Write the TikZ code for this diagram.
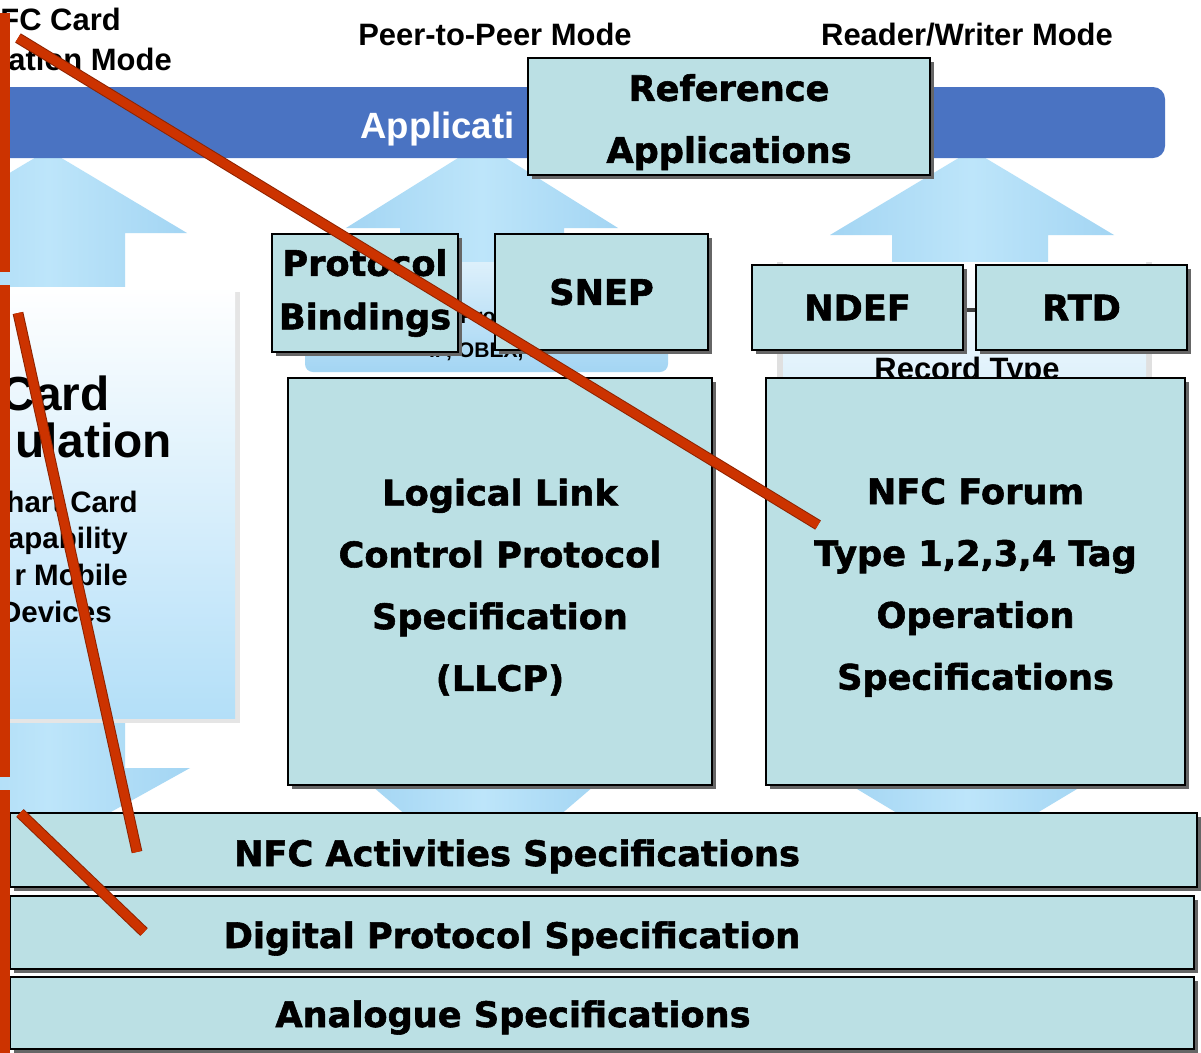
\documentclass[tikz,border=0pt]{standalone}
\usepackage{fontspec}
\setmainfont{Liberation Sans}
\newfontfamily\heavyfont{DejaVu Sans}[BoldFeatures={FakeBold=1.6}]
\usetikzlibrary{shadows, positioning}
\definecolor{tealFill}{HTML}{BBE0E4}
\definecolor{barBlue}{HTML}{4A73C2}
\definecolor{arrowBlue}{HTML}{A3D5F3}
\definecolor{arrowMid}{HTML}{BDE5FA}
\definecolor{panelBlue}{HTML}{B3DFF8}
\definecolor{paleBlue}{HTML}{DDF0FB}
\definecolor{redLine}{HTML}{CC3300}
\definecolor{redDark}{HTML}{8E2300}
\newcommand{\topstrut}{\rule{0pt}{27pt}}

\tikzset{
  specbox/.style={draw=black, line width=0.6mm, fill=tealFill,
    drop shadow={shadow xshift=0.9mm, shadow yshift=-0.9mm, fill=black!60, opacity=1},
    inner sep=0pt, align=center, font=\heavyfont\bfseries\fontsize{25}{44}\selectfont},
  spectext/.style={inner sep=0pt, anchor=base, font=\heavyfont\bfseries\fontsize{25}{30}\selectfont},
  modetext/.style={inner sep=0pt, anchor=base, font=\bfseries\fontsize{22}{26}\selectfont},
  cardtext/.style={inner sep=0pt, anchor=base east, font=\bfseries\fontsize{21}{26}\selectfont},
  uparrow/.style={left color=arrowBlue, right color=arrowBlue, middle color=arrowMid},
  redline/.style={draw=redLine, line width=2.2mm, preaction={draw=redDark, line width=2.7mm}},
}

\begin{document}
\begin{tikzpicture}[x=0.25mm, y=-0.25mm]
    \fill[white] (0,0) rectangle (1201,1052);
    \useasboundingbox (0,0) rectangle (1201,1052);

    % arrows of the original figure
    \shade[uparrow] (48,150) -- (187,233) -- (125,233) -- (125,290) -- (-29,290) -- (-29,233) -- (-91,233) -- cycle;
    \shade[uparrow] (482,143) -- (618,228) -- (564,228) -- (564,270) -- (400,270) -- (400,228) -- (346,228) -- cycle;
    \shade[uparrow] (972,150) -- (1114,235) -- (1048,235) -- (1048,270) -- (892,270) -- (892,235) -- (830,235) -- cycle;
    \shade[uparrow] (-94,768) -- (-29,768) -- (-29,710) -- (125,710) -- (125,768) -- (190,768) -- (48,847) -- cycle;
    \shade[uparrow] (365,780) -- (601,780) -- (483,881) -- cycle;
    \shade[uparrow] (842,780) -- (1092,780) -- (967,855) -- cycle;

    \fill[barBlue, rounded corners=3mm] (-30,87) rectangle (1165,158);
    \node[anchor=base west, inner sep=0pt, text=white, font=\bfseries\fontsize{26}{30}\selectfont] (apptext) at (360,138) {Applicati};

    % panels of the original figure
    \fill[black!10] (-10,292) rectangle (240,723);
    \shade[top color=white, bottom color=panelBlue] (-10,287) rectangle (235,718);
    \shade[top color=paleBlue, bottom color=arrowBlue, rounded corners=2mm] (305,262) rectangle (668,372);
    \fill[black!12] (777,262) rectangle (1152,384);
    \shade[top color=white, bottom color=paleBlue] (783,262) rectangle (1146,382);
    \draw[black!75, line width=1.2mm] (955,310) -- (985,310);

    \node[modetext, anchor=base east] (cardmode1) at (121,30) {FC Card};
    \node[modetext, anchor=base east] (cardmode2) at (172,70) {ation Mode};
    \node[modetext] (p2pmode) at (495,45) {Peer-to-Peer Mode};
    \node[modetext] (rwmode) at (967,45) {Reader/Writer Mode};

    \node[cardtext, font=\bfseries\fontsize{34}{40}\selectfont] (card1) at (110,410) {Card};
    \node[cardtext, font=\bfseries\fontsize{34}{40}\selectfont] (card2) at (172,457) {ulation};
    \node[cardtext] (card3) at (138,512) {hart Card};
    \node[cardtext] (card4) at (128,548) {apability};
    \node[cardtext] (card5) at (128,585) {r Mobile};
    \node[cardtext] (card6) at (112,622) {Devices};

    \node[anchor=base west, inner sep=0pt, font=\bfseries\fontsize{15}{18}\selectfont] (protfrag) at (460,323) {Pro};
    \node[anchor=base, inner sep=0pt, font=\bfseries\fontsize{15}{18}\selectfont] (obexfrag) at (488,357) {IP, OBEX, ...};
    \node[modetext] (rtdfrag) at (967,379) {Record Type};

    % specification boxes
    \node[specbox, minimum width=100.5mm, minimum height=29.25mm] (refapp) at (729,116.5) {\topstrut Reference\\Applications};
    \node[specbox, minimum width=46.5mm, minimum height=29.5mm, font=\heavyfont\bfseries\fontsize{25}{38}\selectfont] (bind) at (365,293) {Protocol\\Bindings};
    \node[specbox, minimum width=53.25mm, minimum height=29mm] (snep) at (601.5,292) {SNEP};
    \node[specbox, minimum width=52.75mm, minimum height=21.25mm] (ndef) at (857.5,307.5) {NDEF};
    \node[specbox, minimum width=52.75mm, minimum height=21.25mm] (rtd) at (1081.5,307.5) {RTD};
    \node[specbox, minimum width=106mm, minimum height=101.75mm] (llcp) at (500,581.5) {\topstrut Logical Link\\Control Protocol\\Specification\\(LLCP)};
    \node[specbox, minimum width=104.75mm, minimum height=101.75mm] (tagop) at (975.5,581.5) {\topstrut NFC Forum\\Type 1,2,3,4 Tag\\Operation\\Specifications};

    \node[specbox, minimum width=296.75mm, minimum height=18.5mm] (activ) at (603.5,850) {};
    \node[specbox, minimum width=296mm, minimum height=18.25mm] (digit) at (602,932.5) {};
    \node[specbox, minimum width=296mm, minimum height=18mm] (analog) at (602,1013) {};
    \node[spectext] (activtext) at (517,866) {NFC Activities Specifications};
    \node[spectext] (digittext) at (512,948) {Digital Protocol Specification};
    \node[spectext] (analogtext) at (513,1027) {Analogue Specifications};

    % red marks
    \coordinate (barA1) at (5,13);   \coordinate (barA2) at (5,272);
    \coordinate (barB1) at (5,285);  \coordinate (barB2) at (5,777);
    \coordinate (barC1) at (5,790);  \coordinate (barC2) at (5,1060);
    \coordinate (lineA1) at (18,38);  \coordinate (lineA2) at (818,525);
    \coordinate (lineB1) at (18,313); \coordinate (lineB2) at (137,852);
    \coordinate (lineC1) at (20,813); \coordinate (lineC2) at (144,932);
    \draw[redline, line width=2.6mm] (barA1) -- (barA2);
    \draw[redline, line width=2.6mm] (barB1) -- (barB2);
    \draw[redline, line width=2.6mm] (barC1) -- (barC2);
    \draw[redline] (lineA1) -- (lineA2);
    \draw[redline] (lineB1) -- (lineB2);
    \draw[redline] (lineC1) -- (lineC2);
\end{tikzpicture}
\end{document}
